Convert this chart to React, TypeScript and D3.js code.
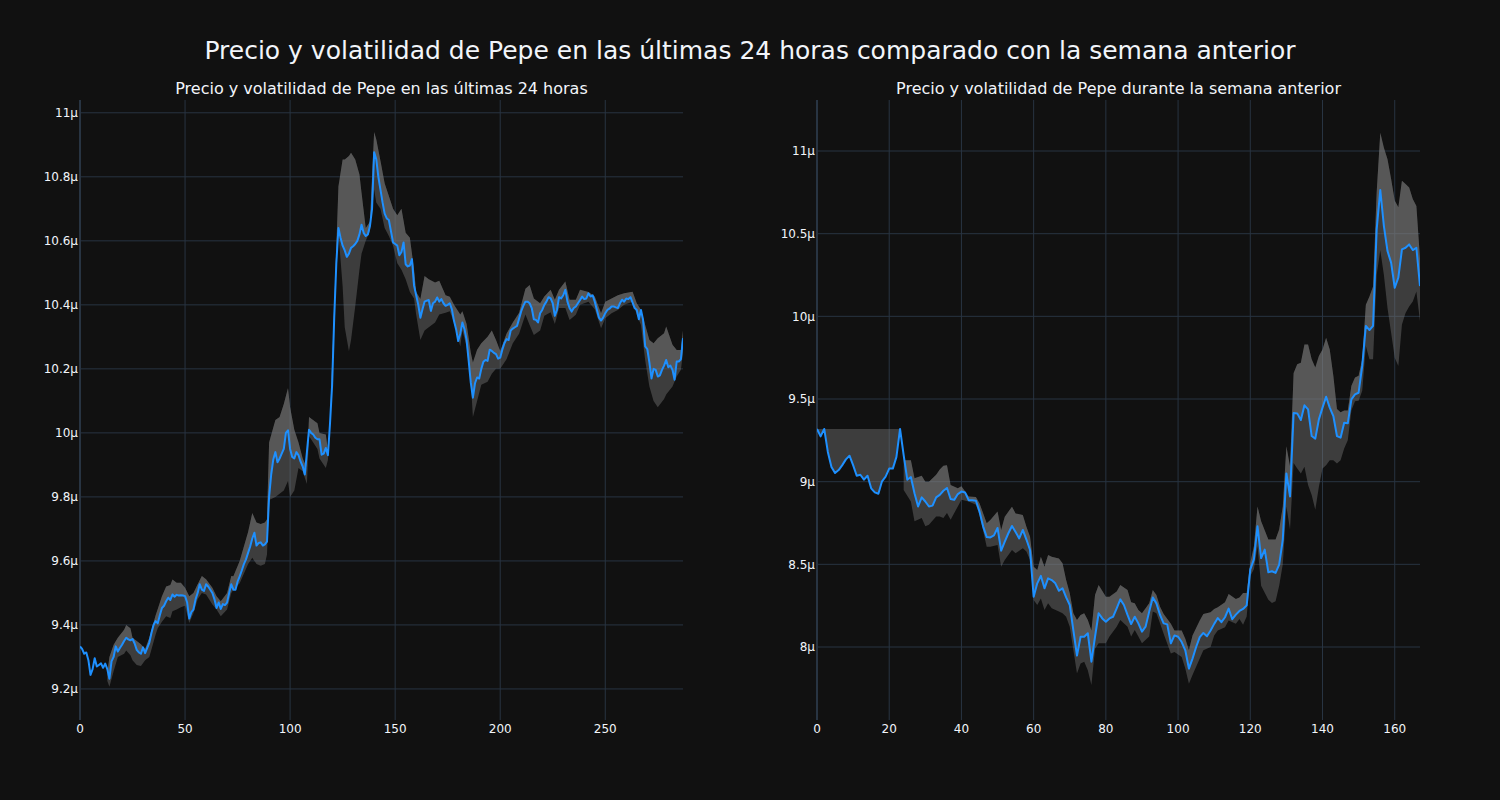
import React from "react";
import * as d3 from "d3";

// Values in µ (millionths). Index = time step.
const LEFT_PRICE = [
  9.333, 9.325, 9.31, 9.314, 9.29, 9.244, 9.262, 9.296, 9.27, 9.275,
  9.28, 9.266, 9.279, 9.262, 9.232, 9.286, 9.3, 9.333, 9.317, 9.328,
  9.338, 9.35, 9.36, 9.355, 9.352, 9.356, 9.342, 9.322, 9.314, 9.31,
  9.33, 9.312, 9.328, 9.345, 9.375, 9.4, 9.412, 9.405, 9.43, 9.453,
  9.46, 9.474, 9.485, 9.478, 9.495, 9.488, 9.494, 9.492, 9.493, 9.492,
  9.49, 9.47, 9.42, 9.44, 9.448, 9.48, 9.5, 9.527, 9.51, 9.506,
  9.527, 9.52, 9.51, 9.5, 9.48, 9.453, 9.47, 9.45, 9.465, 9.462,
  9.47, 9.5, 9.527, 9.51, 9.51, 9.535, 9.552, 9.57, 9.59, 9.605,
  9.625, 9.645, 9.67, 9.688, 9.648, 9.656, 9.658, 9.648, 9.652, 9.66,
  9.8, 9.87, 9.917, 9.94, 9.908, 9.92, 9.935, 9.95, 10.0, 10.008,
  9.95, 9.925, 9.92, 9.94, 9.93, 9.91, 9.895, 9.87, 9.94, 10.01,
  10.0, 9.995, 9.985, 9.98, 9.98, 9.932, 9.935, 9.953, 9.93, 10.03,
  10.15, 10.36, 10.53, 10.64, 10.61, 10.585, 10.57, 10.55, 10.56, 10.578,
  10.583, 10.59, 10.6, 10.62, 10.65, 10.625, 10.615, 10.62, 10.646, 10.7,
  10.877, 10.855, 10.8, 10.76, 10.72, 10.685, 10.67, 10.665, 10.63, 10.595,
  10.59, 10.585, 10.555, 10.565, 10.595, 10.527, 10.52, 10.523, 10.543, 10.46,
  10.43, 10.4, 10.36, 10.386, 10.41, 10.413, 10.415, 10.381, 10.405, 10.41,
  10.423, 10.41, 10.418, 10.405, 10.397, 10.4, 10.405, 10.386, 10.35, 10.324,
  10.287, 10.31, 10.345, 10.324, 10.29, 10.225, 10.157, 10.11, 10.155, 10.173,
  10.17, 10.2, 10.222, 10.228, 10.225, 10.26, 10.256, 10.25, 10.246, 10.232,
  10.235, 10.26, 10.28, 10.293, 10.29, 10.32, 10.326, 10.33, 10.334, 10.357,
  10.38, 10.397, 10.41, 10.41, 10.405, 10.39, 10.355, 10.353, 10.345, 10.374,
  10.384, 10.4, 10.41, 10.424, 10.42, 10.405, 10.366, 10.384, 10.424, 10.42,
  10.43, 10.447, 10.41, 10.39, 10.379, 10.39, 10.395, 10.405, 10.415, 10.426,
  10.418, 10.42, 10.436, 10.426, 10.43, 10.41, 10.385, 10.36, 10.351, 10.36,
  10.374, 10.384, 10.388, 10.395, 10.395, 10.392, 10.39, 10.405, 10.416, 10.41,
  10.42, 10.418, 10.424, 10.407, 10.39, 10.384, 10.355, 10.384, 10.353, 10.27,
  10.262, 10.22, 10.17, 10.2, 10.197, 10.176, 10.18, 10.197, 10.21, 10.228,
  10.205, 10.21, 10.197, 10.166, 10.223, 10.223, 10.23, 10.296,
];

const LEFT_BAND_X = [
  13, 14, 16, 18, 21, 22, 24, 25, 27, 29, 31, 33, 36, 37, 39, 41, 43, 44, 46, 48,
  50, 52, 54, 56, 58, 60, 63, 65, 67, 70, 72, 73, 76, 80, 82, 84, 86, 88, 89, 90,
  93, 95, 97, 99, 100, 102, 104, 106, 108, 109, 113, 114, 117, 118, 119, 121, 122, 123, 125, 126,
  128, 129, 131, 133, 134, 136, 138, 140, 141, 143, 145, 147, 149, 151, 153, 155, 157, 159, 160, 162,
  164, 166, 169, 171, 174, 176, 178, 181, 182, 184, 186, 187, 189, 191, 194, 196, 198, 200, 203, 206,
  209, 212, 214, 216, 219, 221, 224, 226, 228, 231, 233, 236, 238, 242, 245, 248, 250, 253, 256, 259,
  263, 265, 267, 269, 271, 273, 275, 278, 279, 282, 284, 286, 287,
];
const LEFT_BAND_UPPER = [
  9.25, 9.3, 9.338, 9.36, 9.385, 9.4, 9.39, 9.36, 9.35, 9.34, 9.325, 9.36, 9.43, 9.45, 9.49, 9.52, 9.525, 9.542, 9.532, 9.532,
  9.516, 9.49, 9.5, 9.527, 9.553, 9.543, 9.516, 9.49, 9.474, 9.5, 9.553, 9.552, 9.6, 9.69, 9.75, 9.72, 9.715, 9.72, 9.73, 9.97,
  10.04, 10.05, 10.09, 10.14, 10.08, 10.01, 9.97, 9.92, 9.89, 10.05, 10.03, 10.0, 9.995, 9.945, 10.04, 10.4, 10.58, 10.77, 10.854, 10.854,
  10.865, 10.875, 10.854, 10.807, 10.75, 10.64, 10.66, 10.94, 10.917, 10.85, 10.78, 10.74, 10.7, 10.68, 10.7, 10.625, 10.61, 10.51, 10.44, 10.418,
  10.49, 10.48, 10.47, 10.475, 10.43, 10.425, 10.4, 10.37, 10.38, 10.34, 10.25, 10.22, 10.26, 10.28, 10.3, 10.32, 10.29, 10.256, 10.31, 10.345,
  10.375, 10.45, 10.462, 10.42, 10.405, 10.426, 10.447, 10.416, 10.447, 10.473, 10.416, 10.416, 10.447, 10.44, 10.426, 10.374, 10.41, 10.42, 10.43, 10.436,
  10.441, 10.405, 10.384, 10.337, 10.29, 10.28, 10.296, 10.311, 10.332, 10.275, 10.259, 10.259, 10.32,
];
const LEFT_BAND_LOWER = [
  9.225, 9.207, 9.255, 9.3, 9.31, 9.32, 9.305, 9.29, 9.275, 9.272, 9.29, 9.3, 9.37, 9.39, 9.41, 9.427, 9.422, 9.443, 9.448, 9.455,
  9.46, 9.406, 9.437, 9.48, 9.5, 9.495, 9.464, 9.448, 9.427, 9.448, 9.5, 9.51, 9.53, 9.59, 9.61, 9.59, 9.585, 9.59, 9.62, 9.79,
  9.8, 9.81, 9.82, 9.85, 9.8, 9.82, 9.89, 9.88, 9.84, 9.99, 9.95, 9.92, 9.89, 9.915, 10.02, 10.35, 10.54, 10.625, 10.458, 10.33,
  10.255, 10.29, 10.396, 10.51, 10.56, 10.6, 10.63, 10.76, 10.72, 10.7, 10.64, 10.615, 10.585, 10.53, 10.51, 10.48, 10.44, 10.42, 10.37, 10.29,
  10.32, 10.33, 10.345, 10.37, 10.375, 10.38, 10.345, 10.27, 10.32, 10.27, 10.16, 10.05, 10.1, 10.15, 10.16, 10.185, 10.2, 10.2, 10.23, 10.28,
  10.31, 10.37, 10.337, 10.306, 10.32, 10.366, 10.377, 10.34, 10.39, 10.39, 10.353, 10.369, 10.4, 10.41, 10.386, 10.327, 10.358, 10.374, 10.384, 10.4,
  10.41, 10.369, 10.337, 10.227, 10.145, 10.1, 10.08, 10.106, 10.12, 10.145, 10.176, 10.197, 10.25,
];

const RIGHT_PRICE = [
  9.319, 9.274, 9.319, 9.18, 9.089, 9.052, 9.07, 9.1, 9.135, 9.157,
  9.1, 9.036, 9.042, 9.012, 9.036, 8.96, 8.935, 8.927, 9.002, 9.03,
  9.079, 9.079, 9.15, 9.319, 9.16, 9.012, 9.028, 8.93, 8.85, 8.905,
  8.88, 8.85, 8.855, 8.905, 8.92, 8.945, 8.962, 8.895, 8.89, 8.925,
  8.94, 8.935, 8.888, 8.887, 8.885, 8.82, 8.73, 8.665, 8.663, 8.675,
  8.72, 8.583, 8.637, 8.688, 8.732, 8.695, 8.657, 8.708, 8.65, 8.587,
  8.304, 8.385, 8.43, 8.355, 8.415, 8.405, 8.385, 8.34, 8.355, 8.3,
  8.254, 8.1, 7.948, 8.062, 8.062, 8.083, 7.911, 8.062, 8.204, 8.173,
  8.153, 8.173, 8.183, 8.234, 8.288, 8.254, 8.194, 8.139, 8.183, 8.143,
  8.093, 8.123, 8.214, 8.3, 8.264, 8.194, 8.143, 8.137, 8.022, 8.07,
  8.062, 8.03, 7.98, 7.869, 7.93, 8.0, 8.06, 8.085, 8.065, 8.1,
  8.14, 8.175, 8.15, 8.18, 8.232, 8.168, 8.196, 8.218, 8.23, 8.252,
  8.47, 8.53, 8.73, 8.538, 8.589, 8.452, 8.458, 8.448, 8.498, 8.65,
  9.05, 8.911, 9.415, 9.413, 9.373, 9.462, 9.437, 9.276, 9.26, 9.377,
  9.448, 9.514, 9.448, 9.397, 9.276, 9.266, 9.357, 9.353, 9.498, 9.528,
  9.538, 9.7, 9.942, 9.917, 9.942, 10.526, 10.764, 10.546, 10.395, 10.325,
  10.173, 10.234, 10.405, 10.415, 10.435, 10.401, 10.415, 10.183,
];

const RIGHT_BAND_X = [
  24, 26, 27, 29, 30, 31, 33, 34, 35, 36, 37, 39, 40, 42, 44, 45, 47, 48, 50, 51,
  52, 54, 55, 57, 58, 59, 60, 61, 62, 63, 64, 65, 67, 68, 69, 70, 71, 72, 73, 74,
  75, 76, 77, 78, 80, 81, 83, 84, 86, 87, 88, 89, 90, 92, 93, 94, 95, 96, 98, 99,
  101, 102, 103, 104, 106, 107, 109, 110, 111, 113, 114, 116, 117, 118, 119, 120, 121, 122, 123, 125,
  126, 127, 128, 129, 130, 131, 132, 133, 134, 135, 136, 137, 138, 139, 140, 141, 142, 143, 144, 145,
  146, 147, 148, 149, 150, 151, 152, 153, 154, 155, 156, 157, 158, 159, 160, 161, 162, 163, 164, 165,
  166, 167,
];
const RIGHT_BAND_UPPER = [
  9.13, 9.13, 9.02, 9.036, 9.0, 9.0, 9.042, 9.073, 9.097, 9.1, 8.98, 8.96, 8.972, 8.911, 8.907, 8.87, 8.748, 8.768, 8.819, 8.708,
  8.788, 8.849, 8.808, 8.798, 8.728, 8.667, 8.486, 8.466, 8.546, 8.486, 8.556, 8.546, 8.536, 8.506, 8.405, 8.325, 8.204, 8.163, 8.193, 8.204,
  8.163, 8.1, 8.315, 8.375, 8.304, 8.304, 8.335, 8.375, 8.345, 8.27, 8.264, 8.224, 8.204, 8.264, 8.345, 8.315, 8.244, 8.2, 8.14, 8.1,
  8.1, 8.05, 7.98, 8.07, 8.16, 8.2, 8.21, 8.23, 8.24, 8.27, 8.32, 8.29, 8.3, 8.327, 8.327, 8.51, 8.61, 8.85, 8.76, 8.65,
  8.65, 8.65, 8.71, 8.85, 9.214, 9.093, 9.657, 9.71, 9.72, 9.83, 9.83, 9.74, 9.69, 9.76, 9.8, 9.87, 9.8, 9.64, 9.44, 9.42,
  9.43, 9.43, 9.58, 9.63, 9.64, 9.74, 10.07, 10.12, 10.18, 10.75, 11.11, 11.02, 10.95, 10.83, 10.7, 10.66, 10.82, 10.8, 10.78, 10.71,
  10.667, 10.35,
];
const RIGHT_BAND_LOWER = [
  8.95, 8.88, 8.76, 8.78, 8.73, 8.74, 8.79, 8.79, 8.78, 8.81, 8.77, 8.85, 8.89, 8.88, 8.86, 8.8, 8.607, 8.607, 8.617, 8.486,
  8.526, 8.587, 8.567, 8.597, 8.577, 8.526, 8.284, 8.254, 8.294, 8.224, 8.264, 8.234, 8.214, 8.204, 8.183, 8.123, 7.982, 7.84, 7.9, 7.911,
  7.86, 7.77, 7.99, 8.022, 8.022, 8.063, 8.123, 8.163, 8.123, 8.063, 8.103, 8.063, 8.022, 8.063, 8.214, 8.204, 8.143, 8.08, 7.96, 7.97,
  7.94, 7.87, 7.778, 7.83, 7.93, 7.98, 8.0, 8.07, 8.1, 8.12, 8.16, 8.14, 8.17, 8.135, 8.185, 8.43, 8.47, 8.61, 8.37, 8.286,
  8.266, 8.276, 8.37, 8.5, 8.85, 8.71, 9.113, 9.08, 9.05, 9.09, 8.98, 8.92, 8.83, 8.97, 9.08, 9.1, 9.13, 9.13, 9.11, 9.13,
  9.2, 9.25, 9.43, 9.486, 9.49, 9.55, 9.82, 9.74, 9.74, 10.25, 10.4, 10.25, 10.05, 9.9, 9.75, 9.7, 9.95, 10.02, 10.06, 10.09,
  10.15, 9.97,
];
const RIGHT_WARMUP_END = 23;

const LEFT_X_TICKS = [0, 50, 100, 150, 200, 250];
const LEFT_Y_TICKS = [9.2, 9.4, 9.6, 9.8, 10, 10.2, 10.4, 10.6, 10.8, 11];
const RIGHT_X_TICKS = [0, 20, 40, 60, 80, 100, 120, 140, 160];
const RIGHT_Y_TICKS = [8, 8.5, 9, 9.5, 10, 10.5, 11];

const MAIN_TITLE = "Precio y volatilidad de Pepe en las últimas 24 horas comparado con la semana anterior";
const LEFT_TITLE = "Precio y volatilidad de Pepe en las últimas 24 horas";
const RIGHT_TITLE = "Precio y volatilidad de Pepe durante la semana anterior";

const BG = "#111111";
const GRID = "#283442";
const TEXT = "#f2f5fa";
const LINE = "#1E90FF";
const FILL = "rgba(128,128,128,0.4)";
const FONT = "DejaVu Sans, sans-serif";

const TOP = 100;
const BOTTOM = 720;

type PanelProps = {
  id: string;
  x0: number;
  x1: number;
  xMax: number;
  yDomain: [number, number];
  price: number[];
  bandX: number[];
  upper: number[];
  lower: number[];
  xTicks: number[];
  yTicks: number[];
  title: string;
  warmupEnd?: number;
};

function Panel(p: PanelProps) {
  const x = d3.scaleLinear().domain([0, p.xMax]).range([p.x0, p.x1]);
  const y = d3.scaleLinear().domain(p.yDomain).range([BOTTOM, TOP]);
  const line = d3.line<[number, number]>().x((d) => x(d[0])).y((d) => y(d[1]));

  const pricePts: [number, number][] = p.price.map((v, i) => [i, v]);
  const upperPts: [number, number][] = p.bandX.map((bx, k) => [bx, p.upper[k]]);
  const lowerPts: [number, number][] = p.bandX.map((bx, k) => [bx, p.lower[k]]);
  const first = p.bandX[0];
  const last = p.bandX[p.bandX.length - 1];
  const priceSeg = pricePts.filter((d) => d[0] >= first && d[0] <= last).reverse();

  const fillA = line([...upperPts, ...priceSeg]) + "Z";
  const fillB = line([...upperPts, ...lowerPts.slice().reverse()]) + "Z";
  const warm =
    p.warmupEnd !== undefined ? line(pricePts.slice(0, p.warmupEnd + 1)) + "Z" : null;

  const fmt = (v: number) => `${+v.toFixed(1)}µ`;

  return (
    <g>
      <defs>
        <clipPath id={`clip-${p.id}`}>
          <rect x={p.x0} y={TOP} width={p.x1 - p.x0} height={BOTTOM - TOP} />
        </clipPath>
      </defs>
      {p.yTicks.map((t) => (
        <line key={`gy${t}`} x1={p.x0} x2={p.x1} y1={y(t)} y2={y(t)} stroke={GRID} strokeWidth={1} />
      ))}
      {p.xTicks.filter((t) => t !== 0).map((t) => (
        <line key={`gx${t}`} x1={x(t)} x2={x(t)} y1={TOP} y2={BOTTOM} stroke={GRID} strokeWidth={1} />
      ))}
      <line x1={x(0)} x2={x(0)} y1={TOP} y2={BOTTOM} stroke={GRID} strokeWidth={2} />
      <g clipPath={`url(#clip-${p.id})`}>
        {warm && <path d={warm} fill={FILL} stroke="none" />}
        <path d={fillA} fill={FILL} stroke="none" />
        <path d={fillB} fill={FILL} stroke="none" />
        <path d={line(pricePts) || ""} fill="none" stroke={LINE} strokeWidth={2} strokeLinejoin="round" />
      </g>
      {p.yTicks.map((t) => (
        <text key={`ty${t}`} x={p.x0 - 2} y={y(t) + 4.3} textAnchor="end" fontSize={12} fill={TEXT} fontFamily={FONT}>
          {fmt(t)}
        </text>
      ))}
      {p.xTicks.map((t) => (
        <text key={`tx${t}`} x={x(t)} y={BOTTOM + 13} textAnchor="middle" fontSize={12} fill={TEXT} fontFamily={FONT}>
          {t}
        </text>
      ))}
      <text x={(p.x0 + p.x1) / 2} y={94} textAnchor="middle" fontSize={16} fill={TEXT} fontFamily={FONT}>
        {p.title}
      </text>
    </g>
  );
}

export default function App() {
  return (
    <svg
      width={1500}
      height={800}
      style={{ position: "absolute", left: 0, top: 0, background: BG, display: "block" }}
    >
      <rect x={0} y={0} width={1500} height={800} fill={BG} />
      <text x={750} y={59} textAnchor="middle" fontSize={25} fill={TEXT} fontFamily={FONT}>
        {MAIN_TITLE}
      </text>
      <Panel
        id="left"
        x0={80}
        x1={683}
        xMax={287}
        yDomain={[9.103, 11.04]}
        price={LEFT_PRICE}
        bandX={LEFT_BAND_X}
        upper={LEFT_BAND_UPPER}
        lower={LEFT_BAND_LOWER}
        xTicks={LEFT_X_TICKS}
        yTicks={LEFT_Y_TICKS}
        title={LEFT_TITLE}
      />
      <Panel
        id="right"
        x0={817}
        x1={1420}
        xMax={167}
        yDomain={[7.5585, 11.3085]}
        price={RIGHT_PRICE}
        bandX={RIGHT_BAND_X}
        upper={RIGHT_BAND_UPPER}
        lower={RIGHT_BAND_LOWER}
        xTicks={RIGHT_X_TICKS}
        yTicks={RIGHT_Y_TICKS}
        title={RIGHT_TITLE}
        warmupEnd={RIGHT_WARMUP_END}
      />
    </svg>
  );
}
